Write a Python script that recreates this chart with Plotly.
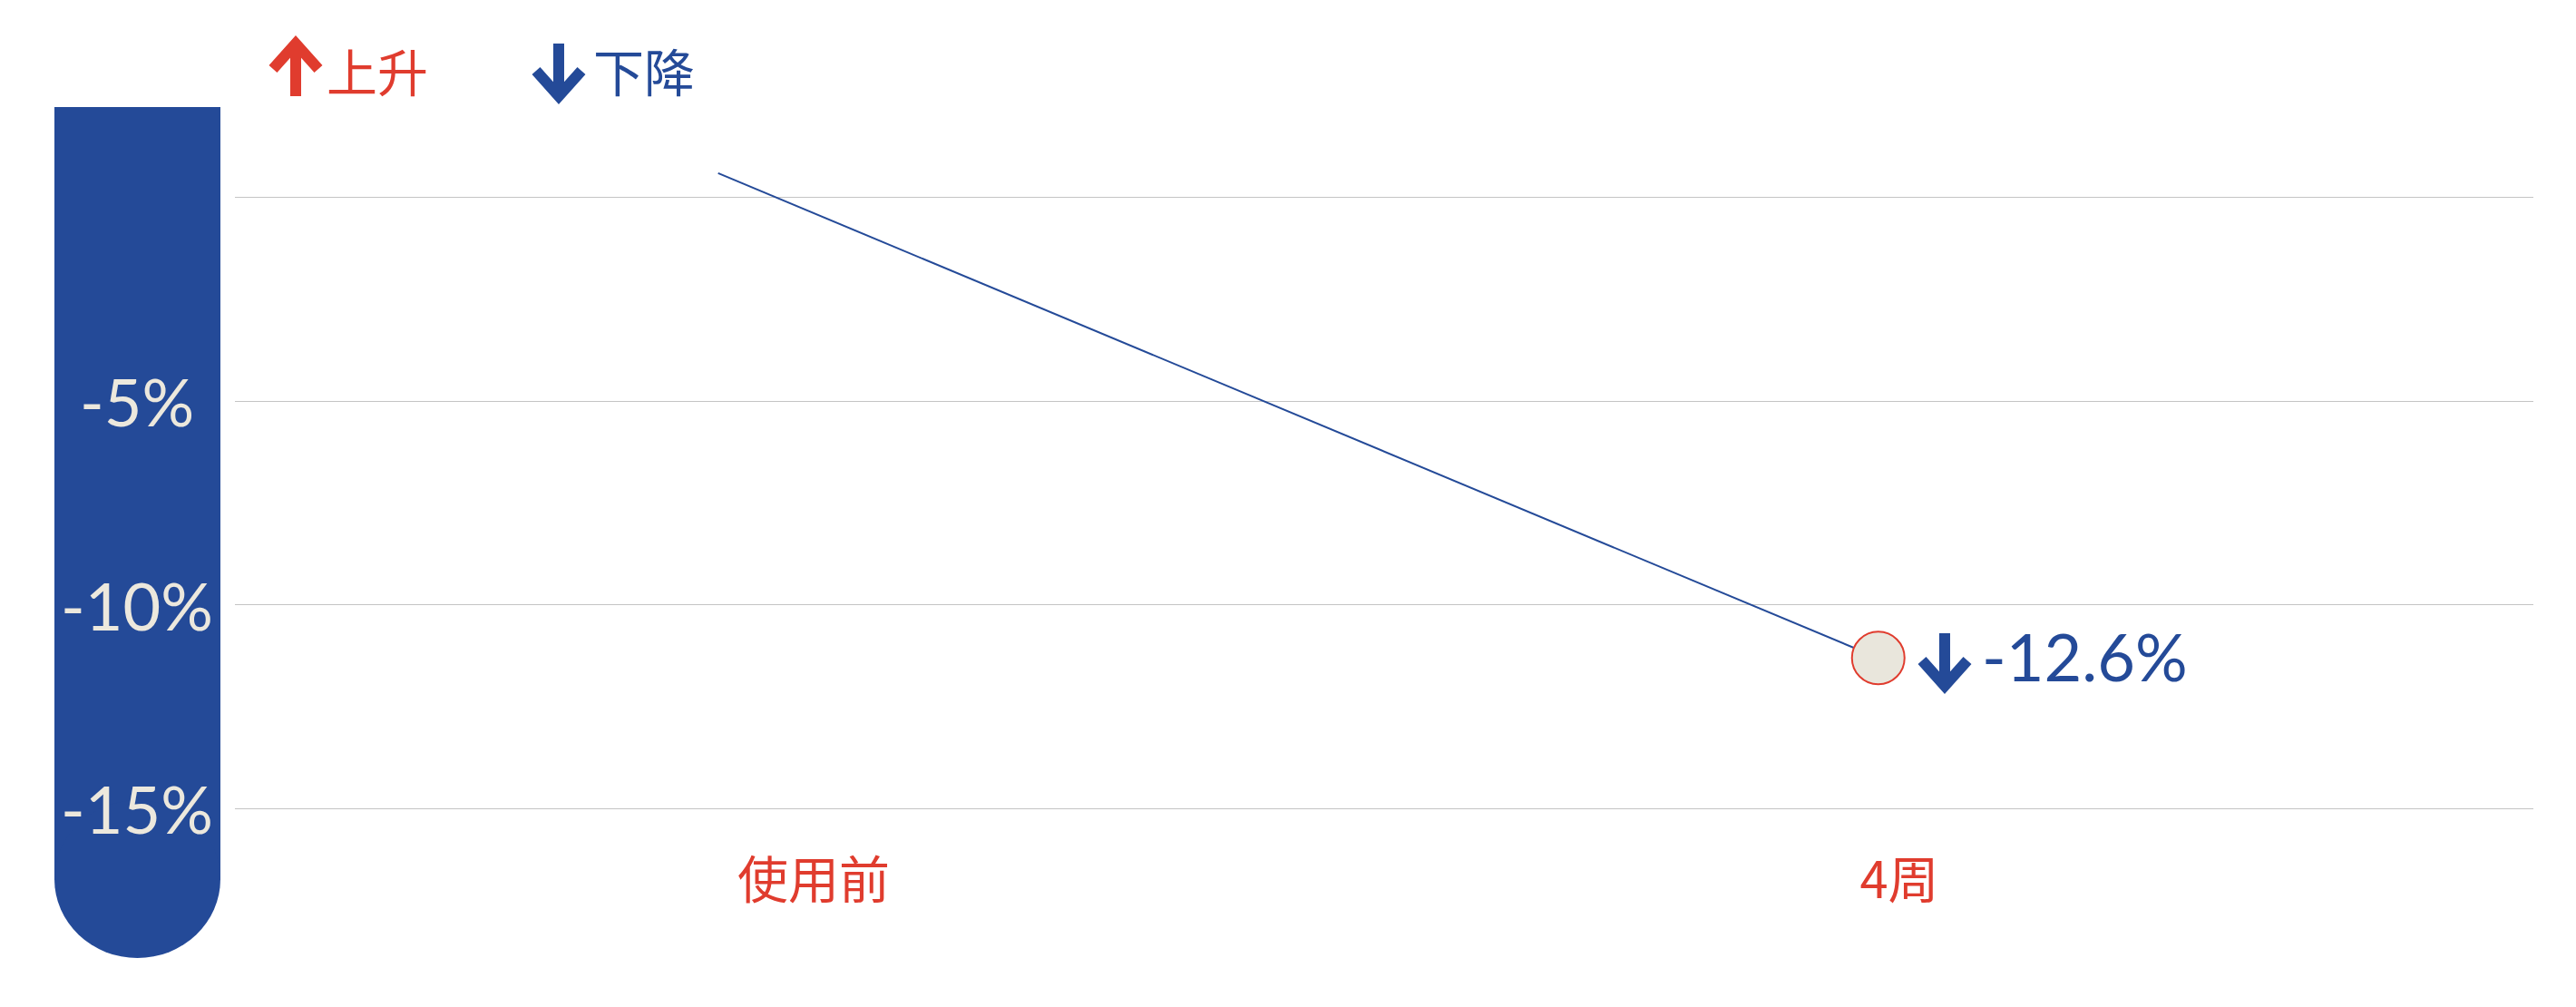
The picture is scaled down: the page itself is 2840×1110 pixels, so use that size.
"""
Line chart: change before use vs. after 4 weeks, with a decorative
thermometer-style y-axis band on the left.
"""

import plotly.graph_objects as go

# ── Data ────────────────────────────────────────────────────────────────────
CATEGORIES = ["使用前", "4周"]
VALUES = [0.6, -11.3]              # plotted positions
POINT_LABEL = "-12.6%"              # label shown next to the 4-week point
Y_TICKS = [0, -5, -10, -15]
Y_TICK_TEXT = ["", "-5%", "-10%", "-15%"]
LEGEND_WORDS = ["上升", "下降"]

# ── Colours / fonts ─────────────────────────────────────────────────────────
BLUE = "#244A98"
RED = "#E03C2E"
CREAM = "#ECE8DD"
GRID = "#C4C4C4"
CJK = "Noto Sans CJK SC"
NUM = "Lato"

W, H = 2840, 1110
L, R, T, B = 259, 47, 120, 180


def px_x(px):
    return (px - L) / (W - L - R)


def px_y(py):
    return (H - B - py) / (H - T - B)


def arrow_path(cx, top, bottom, up=True, half=25, head=28):
    """Stem + chevron head, given in pixels, returned in paper units."""
    tip, base = (top, bottom) if up else (bottom, top)
    back = tip + head if up else tip - head
    pts = [
        ("M", cx, base), ("L", cx, tip),
        ("M", cx - half, back), ("L", cx, tip), ("L", cx + half, back),
    ]
    return " ".join(f"{c} {px_x(x):.5f},{px_y(y):.5f}" for c, x, y in pts)


fig = go.Figure()

# invisible copy on the labelled axis so the category ticks exist
fig.add_trace(go.Scatter(
    x=CATEGORIES, y=VALUES, mode="lines", opacity=0,
    hoverinfo="skip", showlegend=False, xaxis="x", yaxis="y",
))
fig.add_trace(go.Scatter(
    x=CATEGORIES, y=VALUES, mode="lines",
    line=dict(color=BLUE, width=2),
    showlegend=False, xaxis="x2", yaxis="y",
))
fig.add_trace(go.Scatter(
    x=CATEGORIES[-1:], y=VALUES[-1:], mode="markers",
    marker=dict(size=58, color="#E9E6DC", line=dict(color=RED, width=2)),
    showlegend=False, xaxis="x2", yaxis="y",
))

# point label value
fig.add_annotation(
    x=CATEGORIES[-1], y=VALUES[-1], xref="x2", yref="y",
    text=POINT_LABEL, showarrow=False, xanchor="left",
    xshift=112, yshift=2,
    font=dict(family=NUM, size=72, color=BLUE),
)

# arrows: legend up/down + the one beside the 4-week label
for cx, top, bottom, up, colour in [
    (326, 48, 106, True, RED),
    (616, 48, 106, False, BLUE),
    (2144, 698, 756, False, BLUE),
]:
    fig.add_shape(
        type="path", xref="paper", yref="paper", layer="above",
        path=arrow_path(cx, top, bottom, up),
        line=dict(color=colour, width=12),
    )

# legend words
for word, colour, wx in zip(LEGEND_WORDS, [RED, BLUE], [358, 652]):
    fig.add_annotation(
        x=px_x(wx), y=px_y(77), xref="paper", yref="paper",
        text=word, showarrow=False, xanchor="left", yanchor="middle",
        font=dict(family=CJK, size=56, color=colour),
    )

# y tick labels, centred inside the band
for val, txt in zip(Y_TICKS, Y_TICK_TEXT):
    if txt:
        fig.add_annotation(
            x=px_x(151), y=val, xref="paper", yref="y",
            text=txt, showarrow=False, xanchor="center", yanchor="middle",
            font=dict(family=NUM, size=72, color=CREAM),
        )

# thermometer band
fig.add_shape(
    type="rect", xref="paper", yref="paper", layer="below",
    x0=px_x(60), x1=px_x(243), y0=px_y(118), y1=px_y(970),
    fillcolor=BLUE, line_width=0,
)
fig.add_shape(
    type="circle", xref="paper", yref="paper", layer="below",
    x0=px_x(60), x1=px_x(243), y0=px_y(882), y1=px_y(1056),
    fillcolor=BLUE, line_width=0,
)

fig.update_layout(
    width=W, height=H,
    margin=dict(l=L, r=R, t=T, b=B),
    paper_bgcolor="white",
    plot_bgcolor="white",
    showlegend=False,
    xaxis=dict(
        type="category", categoryarray=CATEGORIES,
        range=[-0.533, 1.584],
        showgrid=False, zeroline=False, showline=False, ticks="",
        tickfont=dict(family=CJK, size=56, color=RED),
        ticklabelstandoff=3,
    ),
    xaxis2=dict(
        type="category", categoryarray=CATEGORIES, overlaying="x",
        range=[-0.4165, 1.5647],
        showgrid=False, zeroline=False, showline=False,
        showticklabels=False, ticks="",
    ),
    yaxis=dict(
        range=[-15.86, 2.18],
        tickvals=Y_TICKS,
        showgrid=True, gridcolor=GRID, gridwidth=1,
        zeroline=False, showline=False, ticks="",
        showticklabels=False,
    ),
)

fig.write_html(
    "out.html",
    config={"displayModeBar": False},
    post_script="document.body.style.margin = '0';",
)
